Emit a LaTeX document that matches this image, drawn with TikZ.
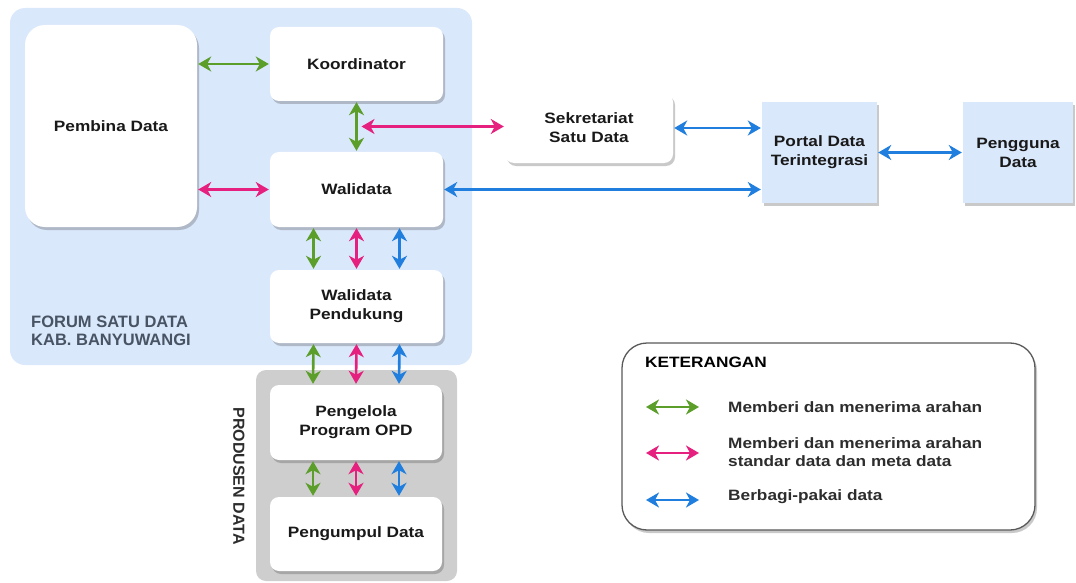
\documentclass[tikz,border=0pt]{standalone}
\usepackage{fontspec}
\setmainfont[FakeStretch=1.15]{Liberation Sans}
\newfontfamily\labelsans{Liberation Sans}
\usetikzlibrary{shadows,arrows.meta,calc}
\definecolor{forumblue}{RGB}{218,232,252}
\definecolor{prodgray}{RGB}{206,206,206}
\definecolor{agreen}{RGB}{92,158,42}
\definecolor{apink}{RGB}{229,32,126}
\definecolor{ablue}{RGB}{32,126,222}
\definecolor{forumtext}{RGB}{72,84,100}
\definecolor{legtext}{RGB}{45,45,45}
\begin{document}
\begin{tikzpicture}[x=1pt,y=-1pt,
  shadowed/.style={drop shadow={shadow xshift=2pt,shadow yshift=-3pt,opacity=0.3,fill=black!70}},
  box/.style={shadowed,draw=none,fill=white,rounded corners=9pt,align=center,inner sep=0pt,
    font=\bfseries\fontsize{15}{19}\selectfont,text=black!90},
  flatbox/.style={shadowed,draw=none,fill=forumblue,align=center,inner sep=0pt,
    font=\bfseries\fontsize{15}{19}\selectfont,text=black!90},
  link/.style={line width=2.6pt,{Stealth[length=13pt,width=15pt,inset=4pt]}-{Stealth[length=13pt,width=15pt,inset=4pt]},
    shorten <=1pt,shorten >=1pt},
  legtxt/.style={anchor=west,align=left,font=\bfseries\fontsize{15}{18}\selectfont,text=legtext,inner sep=0pt}
]
\useasboundingbox (0,0) rectangle (1076,583);

% group backgrounds
\fill[forumblue,rounded corners=15pt] (10,8) rectangle (472,365);
\fill[prodgray,rounded corners=10pt] (256,370) rectangle (457,581);

% forum members
\node[box,rounded corners=20pt,minimum width=172pt,minimum height=202pt] (pembina) at (111,126) {Pembina Data};
\node[box,minimum width=173pt,minimum height=74pt] (koord) at (356.5,64) {Koordinator};
\node[box,minimum width=173pt,minimum height=75pt] (wali) at (356.5,189.5) {Walidata};
\node[box,minimum width=173pt,minimum height=73pt] (walip) at (356.5,306.5) {Walidata\\Pendukung};

% data producers
\node[box,minimum width=172pt,minimum height=75pt] (opd) at (356,422.5) {Pengelola\\Program OPD};
\node[box,minimum width=172pt,minimum height=74pt] (kumpul) at (356,534) {Pengumpul Data};

% outside the forum
\node[box,minimum width=168pt,minimum height=70pt] (sekre) at (589,128) {Sekretariat\\Satu Data};
\node[flatbox,minimum width=115pt,minimum height=101pt] (portal) at (819.5,152.5) {Portal Data\\Terintegrasi};
\node[flatbox,minimum width=110pt,minimum height=101pt] (user) at (1018,152.5) {Pengguna\\Data};

% group labels
\node[anchor=west,align=left,inner sep=0pt,text=forumtext,font=\labelsans\bfseries\fontsize{16.5}{18.5}\selectfont] (forumlbl) at (31,331) {FORUM SATU DATA\\KAB. BANYUWANGI};
\node[rotate=-90,inner sep=0pt,text=legtext,font=\labelsans\bfseries\fontsize{16}{18}\selectfont] (prodlbl) at (239,476) {PRODUSEN DATA};

% connectors
\draw[link,agreen] (pembina.east |- koord) -- (koord.west);
\draw[link,apink] (pembina.east |- wali) -- (wali.west);
\draw[link,agreen] (koord.south) -- (wali.north);
\coordinate (kwmid) at ($(koord.south)!0.5!(wali.north)+(4,0)$);
\draw[link,apink] (kwmid) -- (sekre.west |- kwmid);
\draw[link,ablue] (wali.east) -- (portal.west |- wali.east);
\draw[link,ablue] (sekre.east) -- (portal.west |- sekre.east);
\draw[link,ablue] (portal.east) -- (user.west);

\foreach \a/\b in {wali/walip,walip/opd,opd/kumpul}{
  \draw[link,agreen] ([xshift=-43pt]\a.south) -- ([xshift=-43pt]\b.north);
  \draw[link,apink] (\a.south) -- (\b.north);
  \draw[link,ablue] ([xshift=43pt]\a.south) -- ([xshift=43pt]\b.north);
}

% legend
\node[shadowed,draw=black!65,line width=1.3pt,fill=white,rounded corners=25pt,minimum width=413pt,minimum height=187pt,inner sep=0pt] (legend) at (828.5,436.5) {};
\node[legtxt,text=black] (legtitle) at (645,362) {KETERANGAN};
\coordinate (lg1a) at (645,407); \coordinate (lg1b) at (700,407);
\coordinate (lg2a) at (645,453); \coordinate (lg2b) at (700,453);
\coordinate (lg3a) at (645,500); \coordinate (lg3b) at (700,500);
\draw[link,agreen] (lg1a) -- (lg1b);
\draw[link,apink] (lg2a) -- (lg2b);
\draw[link,ablue] (lg3a) -- (lg3b);
\node[legtxt] (lt1) at (728,407) {Memberi dan menerima arahan};
\node[legtxt] (lt2) at (728,452) {Memberi dan menerima arahan\\standar data dan meta data};
\node[legtxt] (lt3) at (728,497) {Berbagi-pakai data};
\end{tikzpicture}
\end{document}
